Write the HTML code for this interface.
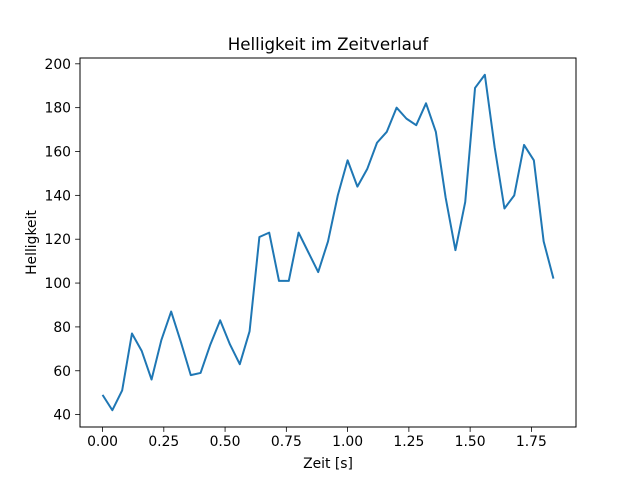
<!DOCTYPE html>
<html><head><meta charset="utf-8"><style>
body{margin:0;background:#fff;}
svg{font-family:"DejaVu Sans","Liberation Sans",sans-serif;}
</style></head><body>
<svg id="chart" width="640" height="480" viewBox="0 0 640 480" xmlns="http://www.w3.org/2000/svg">
<rect width="640" height="480" fill="#fff"/>
<text x="328" y="50" text-anchor="middle" font-size="16.7">Helligkeit im Zeitverlauf</text>
<g id="plot"></g>
<rect x="80" y="58" width="496" height="369" fill="none" stroke="#000" stroke-width="1"/>
<text x="328" y="468" text-anchor="middle" font-size="13.9">Zeit [s]</text>
<text x="36" y="242.5" text-anchor="middle" font-size="13.9" transform="rotate(-90 36 242.5)">Helligkeit</text>
</svg>
<script>
const timeValues = [0,0.04,0.08,0.12,0.16,0.20,0.24,0.28,0.32,0.36,0.40,0.44,0.48,0.52,0.56,0.60,0.64,0.68,0.72,0.76,0.80,0.84,0.88,0.92,0.96,1.00,1.04,1.08,1.12,1.16,1.20,1.24,1.28,1.32,1.36,1.40,1.44,1.48,1.52,1.56,1.60,1.64,1.68,1.72,1.76,1.80,1.84];
const brightnessValues = [49,42,51,77,69,56,74,87,73,58,59,72,83,72,63,78,121,123,101,101,123,114,105,119,140,156,144,152,164,169,180,175,172,182,169,139,115,137,189,195,162,134,140,163,156,119,102];
const xTicks = [0,0.25,0.5,0.75,1.0,1.25,1.5,1.75];
const xTickLabels = ["0.00","0.25","0.50","0.75","1.00","1.25","1.50","1.75"];
const yTicks = [40,60,80,100,120,140,160,180,200];
const yTickLabels = ["40","60","80","100","120","140","160","180","200"];

const NS="http://www.w3.org/2000/svg";
const L=80,R=576,T=58,B=427;
const xmin=Math.min(...timeValues),xmax=Math.max(...timeValues);
const dmin=Math.min(...brightnessValues),dmax=Math.max(...brightnessValues);
const ymin=dmin-0.05*(dmax-dmin),ymax=dmax+0.05*(dmax-dmin);
const xs=v=>L+(v-(xmin-0.05*(xmax-xmin)))/((xmax-xmin)*1.1)*(R-L);
const ys=v=>B-(v-ymin)/(ymax-ymin)*(B-T);
const g=document.getElementById('plot');
function mk(tag,attrs){const e=document.createElementNS(NS,tag);for(const k in attrs)e.setAttribute(k,attrs[k]);g.appendChild(e);return e;}
xTicks.forEach((t,i)=>{
  const x=xs(t);
  const l=mk('line',{x1:x,x2:x,y1:B,y2:B+4.9,stroke:'#000','stroke-width':0.8});
  
  
  const tx=mk('text',{x:x,y:B+19,'text-anchor':'middle','font-size':13.9});
  
  
  tx.textContent=xTickLabels[i];
});
yTicks.forEach((t,i)=>{
  const y=ys(t);
  const l=mk('line',{x1:L-4.9,x2:L,y1:y,y2:y,stroke:'#000','stroke-width':0.8});
  
  
  const tx=mk('text',{x:L-9,y:y+5,'text-anchor':'end','font-size':13.9});
  
  
  tx.textContent=yTickLabels[i];
});
const pts=timeValues.map((t,i)=>xs(t).toFixed(2)+','+ys(brightnessValues[i]).toFixed(2)).join(' ');
const line=mk('polyline',{points:pts,fill:'none',stroke:'#1f77b4','stroke-width':2,'stroke-linejoin':'round'});


</script>
</body></html>
